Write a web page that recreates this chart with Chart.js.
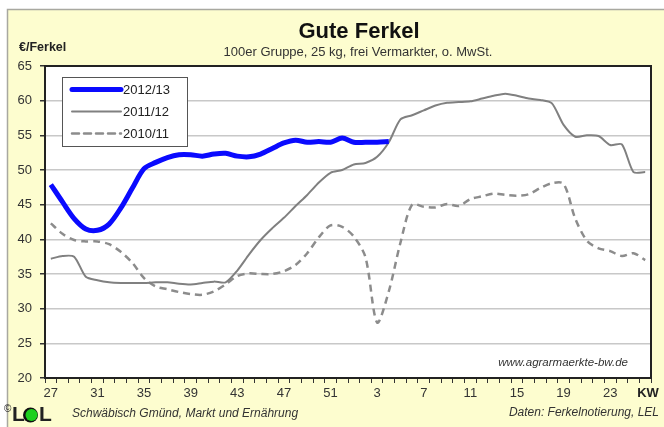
<!DOCTYPE html>
<html>
<head>
<meta charset="utf-8">
<script src="https://cdn.jsdelivr.net/npm/chart.js@4"></script>
<style>
  html, body { margin: 0; padding: 0; background: #fff; }
  canvas { display: block; }
</style>
</head>
<body>
<canvas id="ferkel" width="664" height="427"></canvas>
<script>
// Kalenderwochen 27 bis 26
const weeks = [27, 28, 29, 30, 31, 32, 33, 34, 35, 36, 37, 38, 39, 40, 41, 42, 43, 44, 45, 46, 47, 48, 49, 50, 51, 52,
               1, 2, 3, 4, 5, 6, 7, 8, 9, 10, 11, 12, 13, 14, 15, 16, 17, 18, 19, 20, 21, 22, 23, 24, 25, 26];

const seriesNames = ["2012/13", "2011/12", "2010/11"];

const price1213 = [47.9, 45.4, 43.0, 41.5, 41.3, 42.2, 44.5, 47.4, 50.2, 51.1, 51.8, 52.2, 52.2, 52.0, 52.3, 52.4,
                   52.0, 51.9, 52.3, 53.1, 53.9, 54.3, 54.0, 54.1, 54.0, 54.6,
                   54.0, 54.0, 54.0, 54.1, null, null, null, null, null, null, null, null, null, null, null, null,
                   null, null, null, null, null, null, null, null, null, null];

const price1112 = [37.2, 37.6, 37.5, 34.6, 34.1, 33.8, 33.7, 33.7, 33.7, 33.8, 33.8, 33.6, 33.5, 33.7, 33.9, 33.8,
                   35.5, 37.8, 39.9, 41.6, 43.1, 44.8, 46.4, 48.2, 49.6, 50.0,
                   50.8, 51.0, 51.9, 54.0, 57.3, 57.9, 58.6, 59.3, 59.7, 59.8, 59.9, 60.3, 60.7, 61.0, 60.7, 60.3,
                   60.1, 59.6, 56.5, 54.8, 55.0, 54.9, 53.6, 53.7, 49.7, 49.7];

const price1011 = [42.3, 40.8, 39.9, 39.7, 39.7, 39.3, 38.2, 36.6, 34.4, 33.2, 32.8, 32.4, 32.1, 32.0, 32.5, 33.5,
                   34.7, 35.1, 35.0, 35.0, 35.4, 36.3, 38.0, 40.3, 42.0, 41.8,
                   40.4, 37.4, 28.0, 32.5, 39.5, 45.0, 44.7, 44.6, 45.1, 44.8, 45.8, 46.2, 46.6, 46.4, 46.3, 46.5,
                   47.4, 48.1, 48.0, 43.0, 39.8, 38.7, 38.3, 37.6, 38.0, 37.0];

const FONT = "'Liberation Sans', Arial, sans-serif";

// Hintergrund, Rahmen, Texte und Legende
const decorPlugin = {
    id: "decor",
    beforeDraw(chart) {
        const ctx = chart.ctx;
        const a = chart.chartArea;
        ctx.save();
        ctx.fillStyle = "#fff";
        ctx.fillRect(0, 0, chart.width, chart.height);
        ctx.fillStyle = "#fdfdcf";
        ctx.fillRect(7, 9, chart.width - 7, chart.height - 9);
        ctx.strokeStyle = "#a8a8a0";
        ctx.lineWidth = 1.5;
        ctx.beginPath();
        ctx.moveTo(7.5, chart.height);
        ctx.lineTo(7.5, 9.5);
        ctx.lineTo(chart.width, 9.5);
        ctx.stroke();
        ctx.fillStyle = "#fff";
        ctx.fillRect(a.left, a.top, a.right - a.left, a.bottom - a.top);
        ctx.restore();
    },
    afterDraw(chart) {
        const ctx = chart.ctx;
        const a = chart.chartArea;
        ctx.save();

        // Rahmen der Zeichenfläche
        ctx.strokeStyle = "#222";
        ctx.lineWidth = 2;
        ctx.strokeRect(a.left, a.top, a.right - a.left, a.bottom - a.top);

        // Titel
        ctx.fillStyle = "#111";
        ctx.textAlign = "center";
        ctx.textBaseline = "middle";
        ctx.font = "bold 22px " + FONT;
        ctx.fillText("Gute Ferkel", 359, 32);
        ctx.fillStyle = "#333";
        ctx.font = "13px " + FONT;
        ctx.fillText("100er Gruppe, 25 kg, frei Vermarkter, o. MwSt.", 358, 52);

        // Einheit
        ctx.textAlign = "left";
        ctx.fillStyle = "#222";
        ctx.font = "bold 12.5px " + FONT;
        ctx.fillText("€/Ferkel", 19, 48);

        // KW
        ctx.textAlign = "center";
        ctx.font = "bold 13px " + FONT;
        ctx.fillText("KW", 648, 393);

        // Quelle im Diagramm
        ctx.textAlign = "right";
        ctx.fillStyle = "#333";
        ctx.font = "italic 11.5px " + FONT;
        ctx.fillText("www.agrarmaerkte-bw.de", 628, 363);

        // Fußzeile
        ctx.font = "italic 12px " + FONT;
        ctx.fillText("Daten: Ferkelnotierung, LEL", 659, 413);
        ctx.textAlign = "left";
        ctx.fillText("Schwäbisch Gmünd, Markt und Ernährung", 72, 414);

        // LEL Logo
        ctx.fillStyle = "#222";
        ctx.font = "10px " + FONT;
        ctx.fillText("©", 4, 409);
        ctx.font = "bold 21px " + FONT;
        ctx.fillText("L", 12, 415);
        ctx.fillText("L", 39, 415);
        ctx.fillStyle = "#111";
        ctx.beginPath();
        ctx.arc(30.5, 415, 7.5, 0, Math.PI * 2);
        ctx.fill();
        ctx.fillStyle = "#1ed01e";
        ctx.beginPath();
        ctx.arc(31.5, 415, 6, 0, Math.PI * 2);
        ctx.fill();

        // Legende
        const lx = 62, ly = 77, lw = 125, lh = 69;
        ctx.fillStyle = "#fff";
        ctx.fillRect(lx, ly, lw, lh);
        ctx.strokeStyle = "#555";
        ctx.lineWidth = 1;
        ctx.strokeRect(lx + 0.5, ly + 0.5, lw, lh);
        chart.data.datasets.forEach((ds, i) => {
            const y = 89.5 + i * 22;
            ctx.strokeStyle = ds.borderColor;
            ctx.lineWidth = ds.borderWidth;
            ctx.setLineDash(ds.borderDash || []);
            ctx.lineCap = "round";
            ctx.beginPath();
            ctx.moveTo(72, y);
            ctx.lineTo(121, y);
            ctx.stroke();
            ctx.setLineDash([]);
            ctx.fillStyle = "#222";
            ctx.font = "13px " + FONT;
            ctx.textAlign = "left";
            ctx.fillText(ds.label, 123, y + 0.5);
        });

        ctx.restore();
    },
};

new Chart(document.getElementById("ferkel").getContext("2d"), {
    type: "line",
    data: {
        labels: weeks.map(String),
        datasets: [
            {
                label: seriesNames[0],
                data: price1213,
                borderColor: "#0a0aff",
                borderWidth: 5,
                tension: 0.3,
                pointRadius: 0,
                order: 0,
            },
            {
                label: seriesNames[1],
                data: price1112,
                borderColor: "#808080",
                borderWidth: 2,
                tension: 0.25,
                pointRadius: 0,
                order: 1,
            },
            {
                label: seriesNames[2],
                data: price1011,
                borderColor: "#8c8c8c",
                borderWidth: 2.5,
                borderDash: [7, 5],
                tension: 0.3,
                pointRadius: 0,
                order: 2,
            },
        ],
    },
    plugins: [decorPlugin],
    options: {
        responsive: false,
        animation: false,
        devicePixelRatio: 1,
        layout: {
            padding: { top: 66, right: 13, left: 0, bottom: 0 },
        },
        plugins: {
            legend: { display: false },
            tooltip: { enabled: false },
        },
        scales: {
            x: {
                offset: true,
                grid: {
                    drawOnChartArea: false,
                    offset: true,
                    tickLength: 5,
                    tickColor: "#333",
                },
                border: { display: false },
                ticks: {
                    autoSkip: false,
                    maxRotation: 0,
                    padding: 3,
                    color: "#333",
                    font: { family: FONT, size: 13 },
                    callback: function (val, i) {
                        return i % 4 === 0 ? this.getLabelForValue(val) : "";
                    },
                },
                afterFit: (s) => { s.height = 49; },
            },
            y: {
                min: 20,
                max: 65,
                grid: {
                    color: "#c8c8c8",
                    lineWidth: 1.5,
                    tickLength: 5,
                    tickColor: "#333",
                },
                border: { display: false },
                ticks: {
                    stepSize: 5,
                    padding: 8,
                    color: "#333",
                    font: { family: FONT, size: 13 },
                },
                afterFit: (s) => { s.width = 45; },
            },
        },
    },
});
</script>
</body>
</html>
